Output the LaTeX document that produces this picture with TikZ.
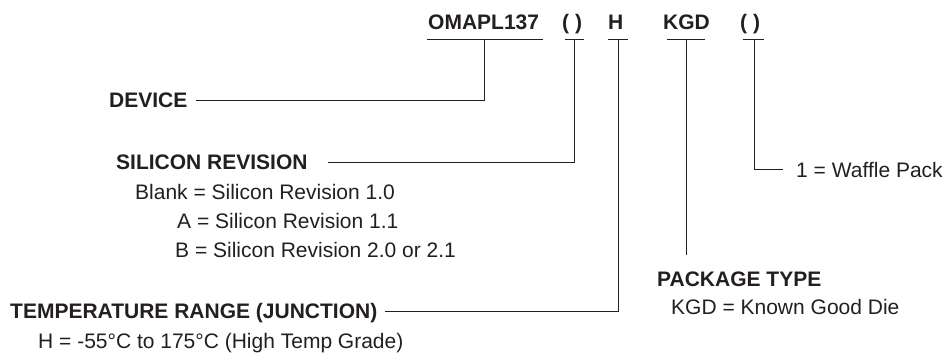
\documentclass[tikz,border=0pt]{standalone}
\usepackage{fontspec}
\setmainfont{Liberation Sans}
\definecolor{ink}{HTML}{231F20}
\begin{document}
\begin{tikzpicture}[x=1pt,y=-1pt,
  lbl/.style={inner sep=0pt, anchor=west, text height=15pt, text depth=0pt, font=\fontsize{21}{25}\selectfont, text=ink},
  hd/.style={lbl, font=\fontsize{21}{25}\selectfont\bfseries},
  ln/.style={draw=ink, line width=1pt}]
\useasboundingbox (0,0) rectangle (948,358);
% top row
\node[hd] (omapl) at (428,22) {OMAPL137};
\node[hd] (revp) at (562,22) {( )};
\node[hd] (temph) at (608,22) {H};
\node[hd] (kgd) at (663,22) {KGD};
\node[hd] (packp) at (740,22) {( )};
% underlines
\draw[ln] (427,40) -- (543,40);
\draw[ln] (565,40) -- (584,40);
\draw[ln] (608,40) -- (628,40);
\draw[ln] (667,40) -- (705,40);
\draw[ln] (743,40) -- (764,40);
\coordinate (c1) at (484,40);
\coordinate (c2) at (574,40);
\coordinate (c3) at (618,40);
\coordinate (c4) at (686,40);
\coordinate (c5) at (754,40);
% labels
\node[hd] (dev) at (109,100.5) {DEVICE};
\node[hd] (sil) at (116,162.5) {SILICON REVISION};
\node[lbl] (blank) at (135,192) {Blank = Silicon Revision 1.0};
\node[lbl] (ra) at (177,221) {A = Silicon Revision 1.1};
\node[lbl] (rb) at (175,250) {B = Silicon Revision 2.0 or 2.1};
\node[lbl] (waf) at (796,170) {1 = Waffle Pack};
\node[hd] (pkg) at (657,279.5) {PACKAGE TYPE};
\node[lbl] (kgdd) at (671,306.5) {KGD = Known Good Die};
\node[hd] (temp) at (10,311) {TEMPERATURE RANGE (JUNCTION)};
\node[lbl] (hh) at (38,341) {H = -55°C to 175°C (High Temp Grade)};
\coordinate (kgdend) at (686,255);
% connectors
\draw[ln] (c1) |- ([xshift=8pt]dev.east);
\draw[ln] (c2) |- ([xshift=20pt]sil.east);
\draw[ln] (c3) |- ([xshift=7pt]temp.east);
\draw[ln] (c4) -- (kgdend);
\draw[ln] (c5) |- ([xshift=-13pt]waf.west);
\end{tikzpicture}
\end{document}
